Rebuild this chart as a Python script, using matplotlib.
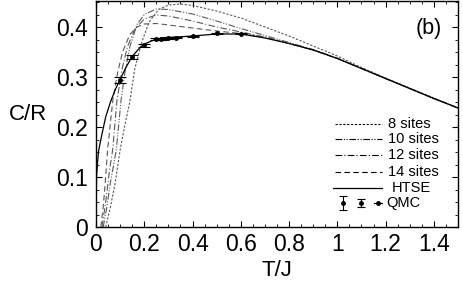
import matplotlib.pyplot as plt
from matplotlib.ticker import MultipleLocator

plt.rcParams['font.family'] = ['Liberation Sans', 'DejaVu Sans']

# exact diagonalization, finite clusters
t8 = [0.04, 0.06, 0.08, 0.1, 0.12, 0.14, 0.16, 0.19, 0.22, 0.26, 0.3, 0.35, 0.4, 0.5, 0.6, 0.7, 0.8, 0.9, 1.0, 1.1, 1.2, 1.3, 1.4, 1.5]
c8 = [0.0, 0.04, 0.09, 0.154, 0.205, 0.25, 0.315, 0.37, 0.41, 0.435, 0.444, 0.446, 0.443, 0.432, 0.418, 0.4, 0.382, 0.362, 0.342, 0.319, 0.298, 0.278, 0.258, 0.238]

t10 = [0.03, 0.045, 0.06, 0.084, 0.104, 0.12, 0.14, 0.17, 0.2, 0.25, 0.3, 0.4, 0.5, 0.6, 0.7, 0.8, 0.9, 1.0, 1.1, 1.2, 1.3, 1.4, 1.5]
c10 = [0.0, 0.04, 0.09, 0.154, 0.254, 0.31, 0.36, 0.405, 0.425, 0.436, 0.435, 0.426, 0.412, 0.397, 0.383, 0.369, 0.355, 0.338, 0.317, 0.297, 0.277, 0.257, 0.238]

t12 = [0.025, 0.04, 0.055, 0.069, 0.087, 0.11, 0.13, 0.16, 0.2, 0.25, 0.3, 0.4, 0.5, 0.6, 0.7, 0.8, 0.9, 1.0, 1.1, 1.2, 1.3, 1.4, 1.5]
c12 = [0.0, 0.05, 0.11, 0.154, 0.254, 0.32, 0.36, 0.395, 0.416, 0.424, 0.422, 0.412, 0.4, 0.39, 0.38, 0.367, 0.354, 0.337, 0.317, 0.297, 0.277, 0.257, 0.238]

t14 = [0.02, 0.03, 0.04, 0.048, 0.06, 0.07, 0.09, 0.11, 0.14, 0.17, 0.2, 0.25, 0.3, 0.4, 0.5, 0.6, 0.7, 0.8, 0.9, 1.0, 1.1, 1.2, 1.3, 1.4, 1.5]
c14 = [0.0, 0.04, 0.1, 0.154, 0.21, 0.254, 0.31, 0.35, 0.385, 0.4, 0.406, 0.407, 0.404, 0.398, 0.392, 0.387, 0.379, 0.367, 0.354, 0.337, 0.317, 0.297, 0.277, 0.257, 0.238]

# high temperature series expansion
t_htse = [0.0, 0.002, 0.01, 0.02, 0.04, 0.06, 0.08, 0.1, 0.125, 0.15, 0.175, 0.2, 0.25, 0.3, 0.4, 0.5, 0.6, 0.7, 0.8, 0.9, 1.0, 1.1, 1.2, 1.3, 1.4, 1.5]
c_htse = [0.0, 0.1, 0.15, 0.175, 0.22, 0.25, 0.275, 0.295, 0.32, 0.341, 0.355, 0.366, 0.376, 0.379, 0.382, 0.386, 0.386, 0.378, 0.367, 0.354, 0.337, 0.317, 0.297, 0.277, 0.257, 0.238]

# quantum Monte Carlo
t_qmc = [0.1, 0.15, 0.2, 0.25, 0.27, 0.3, 0.33, 0.4, 0.5, 0.6]
c_qmc = [0.295, 0.34, 0.364, 0.376, 0.377, 0.379, 0.379, 0.382, 0.388, 0.387]
e_qmc = [0.006, 0.004, 0.003, 0.002, 0.002, 0.002, 0.001, 0.001, 0.001, 0.001]

fig = plt.figure(figsize=(4.63, 2.86), dpi=100)
ax = fig.add_axes([96 / 463, 59 / 286, 362 / 463, 226 / 286])

styles = {
    '8 sites': (0, (2, 1.5)),
    '10 sites': (0, (6, 1.5, 1, 1.5, 1, 1.5)),
    '12 sites': (0, (6, 2, 1, 2)),
    '14 sites': (0, (5, 3)),
}
ax.plot(t8, c8, color='0.35', lw=0.8, linestyle=styles['8 sites'])
ax.plot(t10, c10, color='0.35', lw=0.8, linestyle=styles['10 sites'])
ax.plot(t12, c12, color='0.35', lw=0.8, linestyle=styles['12 sites'])
ax.plot(t14, c14, color='0.35', lw=0.8, linestyle=styles['14 sites'])
ax.plot(t_htse, c_htse, color='black', lw=0.9)
ax.errorbar(t_qmc, c_qmc, yerr=e_qmc, fmt='o', ms=2.5, color='black',
            ecolor='black', elinewidth=0.8, capsize=4.5, capthick=0.8)

ax.set_xlim(0, 1.5)
ax.set_ylim(0, 0.452)
ax.xaxis.set_minor_locator(MultipleLocator(0.05))
ax.yaxis.set_minor_locator(MultipleLocator(0.025))
ax.set_xticks([0, 0.2, 0.4, 0.6, 0.8, 1.0, 1.2, 1.4])
ax.set_xticklabels(['0', '0.2', '0.4', '0.6', '0.8', '1', '1.2', '1.4'])
ax.set_yticks([0, 0.1, 0.2, 0.3, 0.4])
ax.set_yticklabels(['0', '0.1', '0.2', '0.3', '0.4'])
ax.tick_params(which='both', direction='in', top=True, right=True, labelsize=16.5)
ax.tick_params(which='major', length=4, width=0.8)
ax.tick_params(which='minor', length=2, width=0.6)
ax.tick_params(axis='x', pad=4)
ax.tick_params(axis='y', pad=6)
for s in ax.spines.values():
    s.set_linewidth(1.0)

ax.set_xlabel('T/J', fontsize=16, labelpad=3)
fig.text(28 / 463, 1 - 115 / 286, 'C/R', fontsize=16, ha='center', va='center')
ax.text(0.92, 0.88, '(b)', transform=ax.transAxes, fontsize=15.5, ha='center', va='center')

# hand-made legend, axes coordinates
def ax_xy(px, py):
    return (px - 96) / 362, (227 - py) / 226

rows = [('8 sites', 124), ('10 sites', 139), ('12 sites', 155), ('14 sites', 172)]
for name, py in rows:
    x0, y0 = ax_xy(335, py)
    x1, _ = ax_xy(382, py)
    tx, _ = ax_xy(388, py)
    ax.plot([x0, x1], [y0, y0], transform=ax.transAxes, color='black', lw=0.8,
            linestyle=styles[name])
    ax.text(tx, y0, name, transform=ax.transAxes, fontsize=10.5, va='center')

x0, y0 = ax_xy(333, 188)
x1, _ = ax_xy(382, 188)
tx, _ = ax_xy(392, 188)
ax.plot([x0, x1], [y0, y0], transform=ax.transAxes, color='black', lw=0.9)
ax.text(tx, y0, 'HTSE', transform=ax.transAxes, fontsize=10.5, va='center')

_, yq = ax_xy(0, 203)
for px, half in [(343, 7), (361, 4), (378, 0)]:
    xq, _ = ax_xy(px, 203)
    if half:
        _, ylo = ax_xy(0, 203 + half)
        _, yhi = ax_xy(0, 203 - half)
        ax.plot([xq, xq], [ylo, yhi], transform=ax.transAxes, color='black', lw=0.8)
        ax.plot([xq, xq], [ylo, yhi], transform=ax.transAxes, color='black', lw=0,
                marker='_', ms=6, mew=0.8)
    else:
        x0, _ = ax_xy(px - 4, 203)
        x1, _ = ax_xy(px + 4, 203)
        ax.plot([x0, x1], [yq, yq], transform=ax.transAxes, color='black', lw=0.8)
    ax.plot([xq], [yq], transform=ax.transAxes, color='black', marker='o', ms=2.5)
tx, _ = ax_xy(386, 203)
ax.text(tx, yq, 'QMC', transform=ax.transAxes, fontsize=10.5, va='center')

fig.savefig('out.png', dpi=100)
